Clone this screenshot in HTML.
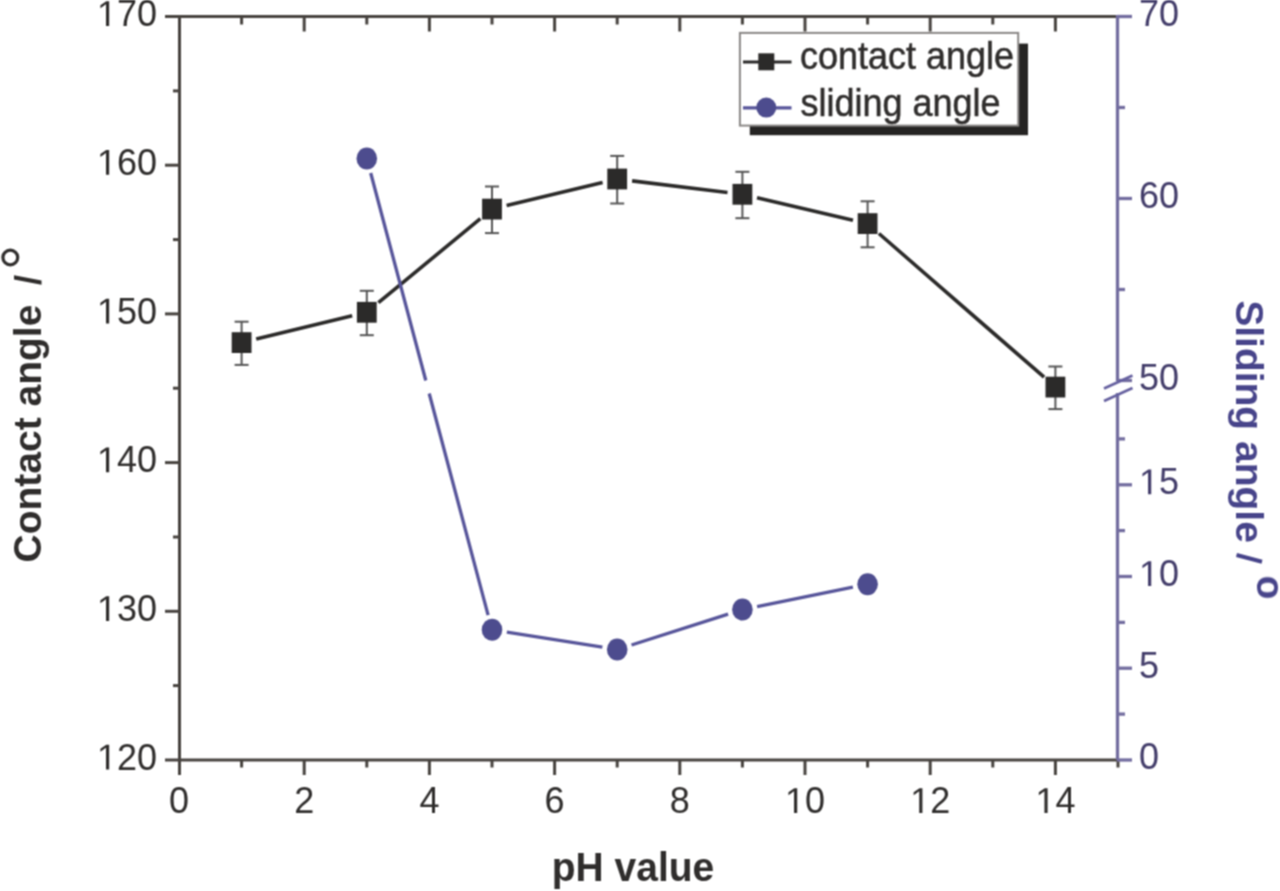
<!DOCTYPE html>
<html><head><meta charset="utf-8"><style>
html,body{margin:0;padding:0;background:#fff;}
body{width:1280px;height:891px;overflow:hidden;font-family:"Liberation Sans",sans-serif;}
svg{display:block;}
</style></head><body>
<svg width="1280" height="891" viewBox="0 0 1280 891">
<defs><filter id="bl" x="0" y="0" width="1" height="1" color-interpolation-filters="sRGB"><feConvolveMatrix order="3" kernelMatrix="1 2 1 2 4 2 1 2 1" divisor="16" edgeMode="duplicate"/></filter></defs>
<g filter="url(#bl)"><rect width="1280" height="891" fill="#fff"/>
<g stroke="#47433f" stroke-width="3" fill="none" stroke-linecap="butt">
<line x1="179.5" y1="15" x2="179.5" y2="775"/>
<line x1="165" y1="16.5" x2="1117" y2="16.5"/>
<line x1="165" y1="760" x2="1117" y2="760"/>
<line x1="165" y1="611.3" x2="180" y2="611.3"/>
<line x1="165" y1="462.6" x2="180" y2="462.6"/>
<line x1="165" y1="313.9" x2="180" y2="313.9"/>
<line x1="165" y1="165.2" x2="180" y2="165.2"/>
<line x1="173" y1="685.6" x2="180" y2="685.6"/>
<line x1="173" y1="537.0" x2="180" y2="537.0"/>
<line x1="173" y1="388.2" x2="180" y2="388.2"/>
<line x1="173" y1="239.6" x2="180" y2="239.6"/>
<line x1="173" y1="90.9" x2="180" y2="90.9"/>
<line x1="304.2" y1="760" x2="304.2" y2="775"/>
<line x1="429.4" y1="760" x2="429.4" y2="775"/>
<line x1="554.6" y1="760" x2="554.6" y2="775"/>
<line x1="679.8" y1="760" x2="679.8" y2="775"/>
<line x1="805.0" y1="760" x2="805.0" y2="775"/>
<line x1="930.2" y1="760" x2="930.2" y2="775"/>
<line x1="1055.4" y1="760" x2="1055.4" y2="775"/>
<line x1="241.6" y1="760" x2="241.6" y2="767.5"/>
<line x1="366.8" y1="760" x2="366.8" y2="767.5"/>
<line x1="492.0" y1="760" x2="492.0" y2="767.5"/>
<line x1="617.2" y1="760" x2="617.2" y2="767.5"/>
<line x1="742.4" y1="760" x2="742.4" y2="767.5"/>
<line x1="867.6" y1="760" x2="867.6" y2="767.5"/>
<line x1="992.8" y1="760" x2="992.8" y2="767.5"/>
<line x1="1118.0" y1="760" x2="1118.0" y2="767.5"/>
<line x1="304.2" y1="16.5" x2="304.2" y2="31.5"/>
<line x1="429.4" y1="16.5" x2="429.4" y2="31.5"/>
<line x1="554.6" y1="16.5" x2="554.6" y2="31.5"/>
<line x1="679.8" y1="16.5" x2="679.8" y2="31.5"/>
<line x1="805.0" y1="16.5" x2="805.0" y2="31.5"/>
<line x1="930.2" y1="16.5" x2="930.2" y2="31.5"/>
<line x1="1055.4" y1="16.5" x2="1055.4" y2="31.5"/>
<line x1="241.6" y1="16.5" x2="241.6" y2="24.5"/>
<line x1="366.8" y1="16.5" x2="366.8" y2="24.5"/>
<line x1="492.0" y1="16.5" x2="492.0" y2="24.5"/>
<line x1="617.2" y1="16.5" x2="617.2" y2="24.5"/>
<line x1="742.4" y1="16.5" x2="742.4" y2="24.5"/>
<line x1="867.6" y1="16.5" x2="867.6" y2="24.5"/>
<line x1="992.8" y1="16.5" x2="992.8" y2="24.5"/>
</g>
<g stroke="#736d9f" stroke-width="3.3" fill="none">
<line x1="1117.5" y1="15" x2="1117.5" y2="381"/>
<line x1="1117.5" y1="393" x2="1117.5" y2="760"/>
<line x1="1117" y1="16.5" x2="1132" y2="16.5"/>
<line x1="1117" y1="198.5" x2="1132" y2="198.5"/>
<line x1="1117" y1="380.5" x2="1132" y2="380.5"/>
<line x1="1117" y1="107.5" x2="1125" y2="107.5"/>
<line x1="1117" y1="289.5" x2="1125" y2="289.5"/>
<line x1="1117" y1="760.0" x2="1132" y2="760.0"/>
<line x1="1117" y1="668.2" x2="1132" y2="668.2"/>
<line x1="1117" y1="576.5" x2="1132" y2="576.5"/>
<line x1="1117" y1="484.8" x2="1132" y2="484.8"/>
<line x1="1117" y1="714.1" x2="1125" y2="714.1"/>
<line x1="1117" y1="622.4" x2="1125" y2="622.4"/>
<line x1="1117" y1="530.6" x2="1125" y2="530.6"/>
<line x1="1117" y1="438.9" x2="1125" y2="438.9"/>
<line x1="1104" y1="388.5" x2="1132.5" y2="375.5" stroke="#65609f" stroke-width="2.7"/>
<line x1="1104" y1="401" x2="1132.5" y2="388" stroke="#65609f" stroke-width="2.7"/>
</g>
<path transform="translate(96.94,769.60) scale(0.01758,-0.01758)" d="M515,0 L515,1237 L197,1010 L197,1180 L530,1409 L696,1409 L696,0 Z" fill="#2f2d2c"/>
<text x="116.96" y="769.60" font-family="Liberation Sans" font-size="36" fill="#2f2d2c">2</text>
<text x="136.98" y="769.60" font-family="Liberation Sans" font-size="36" fill="#2f2d2c">0</text>
<path transform="translate(96.94,620.90) scale(0.01758,-0.01758)" d="M515,0 L515,1237 L197,1010 L197,1180 L530,1409 L696,1409 L696,0 Z" fill="#2f2d2c"/>
<text x="116.96" y="620.90" font-family="Liberation Sans" font-size="36" fill="#2f2d2c">3</text>
<text x="136.98" y="620.90" font-family="Liberation Sans" font-size="36" fill="#2f2d2c">0</text>
<path transform="translate(96.94,472.20) scale(0.01758,-0.01758)" d="M515,0 L515,1237 L197,1010 L197,1180 L530,1409 L696,1409 L696,0 Z" fill="#2f2d2c"/>
<text x="116.96" y="472.20" font-family="Liberation Sans" font-size="36" fill="#2f2d2c">4</text>
<text x="136.98" y="472.20" font-family="Liberation Sans" font-size="36" fill="#2f2d2c">0</text>
<path transform="translate(96.94,323.50) scale(0.01758,-0.01758)" d="M515,0 L515,1237 L197,1010 L197,1180 L530,1409 L696,1409 L696,0 Z" fill="#2f2d2c"/>
<text x="116.96" y="323.50" font-family="Liberation Sans" font-size="36" fill="#2f2d2c">5</text>
<text x="136.98" y="323.50" font-family="Liberation Sans" font-size="36" fill="#2f2d2c">0</text>
<path transform="translate(96.94,174.80) scale(0.01758,-0.01758)" d="M515,0 L515,1237 L197,1010 L197,1180 L530,1409 L696,1409 L696,0 Z" fill="#2f2d2c"/>
<text x="116.96" y="174.80" font-family="Liberation Sans" font-size="36" fill="#2f2d2c">6</text>
<text x="136.98" y="174.80" font-family="Liberation Sans" font-size="36" fill="#2f2d2c">0</text>
<path transform="translate(96.94,26.10) scale(0.01758,-0.01758)" d="M515,0 L515,1237 L197,1010 L197,1180 L530,1409 L696,1409 L696,0 Z" fill="#2f2d2c"/>
<text x="116.96" y="26.10" font-family="Liberation Sans" font-size="36" fill="#2f2d2c">7</text>
<text x="136.98" y="26.10" font-family="Liberation Sans" font-size="36" fill="#2f2d2c">0</text>
<text x="168.99" y="813.00" font-family="Liberation Sans" font-size="36" fill="#2f2d2c">0</text>
<text x="294.19" y="813.00" font-family="Liberation Sans" font-size="36" fill="#2f2d2c">2</text>
<text x="419.39" y="813.00" font-family="Liberation Sans" font-size="36" fill="#2f2d2c">4</text>
<text x="544.59" y="813.00" font-family="Liberation Sans" font-size="36" fill="#2f2d2c">6</text>
<text x="669.79" y="813.00" font-family="Liberation Sans" font-size="36" fill="#2f2d2c">8</text>
<path transform="translate(784.98,813.00) scale(0.01758,-0.01758)" d="M515,0 L515,1237 L197,1010 L197,1180 L530,1409 L696,1409 L696,0 Z" fill="#2f2d2c"/>
<text x="805.00" y="813.00" font-family="Liberation Sans" font-size="36" fill="#2f2d2c">0</text>
<path transform="translate(910.18,813.00) scale(0.01758,-0.01758)" d="M515,0 L515,1237 L197,1010 L197,1180 L530,1409 L696,1409 L696,0 Z" fill="#2f2d2c"/>
<text x="930.20" y="813.00" font-family="Liberation Sans" font-size="36" fill="#2f2d2c">2</text>
<path transform="translate(1035.38,813.00) scale(0.01758,-0.01758)" d="M515,0 L515,1237 L197,1010 L197,1180 L530,1409 L696,1409 L696,0 Z" fill="#2f2d2c"/>
<text x="1055.40" y="813.00" font-family="Liberation Sans" font-size="36" fill="#2f2d2c">4</text>
<text x="1139.00" y="25.90" font-family="Liberation Sans" font-size="36" fill="#433d6a">7</text>
<text x="1159.02" y="25.90" font-family="Liberation Sans" font-size="36" fill="#433d6a">0</text>
<text x="1139.00" y="207.90" font-family="Liberation Sans" font-size="36" fill="#433d6a">6</text>
<text x="1159.02" y="207.90" font-family="Liberation Sans" font-size="36" fill="#433d6a">0</text>
<text x="1139.00" y="389.90" font-family="Liberation Sans" font-size="36" fill="#433d6a">5</text>
<text x="1159.02" y="389.90" font-family="Liberation Sans" font-size="36" fill="#433d6a">0</text>
<path transform="translate(1139.00,494.15) scale(0.01758,-0.01758)" d="M515,0 L515,1237 L197,1010 L197,1180 L530,1409 L696,1409 L696,0 Z" fill="#433d6a"/>
<text x="1159.02" y="494.15" font-family="Liberation Sans" font-size="36" fill="#433d6a">5</text>
<path transform="translate(1139.00,585.90) scale(0.01758,-0.01758)" d="M515,0 L515,1237 L197,1010 L197,1180 L530,1409 L696,1409 L696,0 Z" fill="#433d6a"/>
<text x="1159.02" y="585.90" font-family="Liberation Sans" font-size="36" fill="#433d6a">0</text>
<text x="1139.00" y="677.65" font-family="Liberation Sans" font-size="36" fill="#433d6a">5</text>
<text x="1139.00" y="769.40" font-family="Liberation Sans" font-size="36" fill="#433d6a">0</text>
<text transform="translate(633,880.5) scale(1,1.035)" text-anchor="middle" font-family="Liberation Sans" font-weight="bold" font-size="39" fill="#2f2d2c">pH value</text>
<text transform="translate(41.1,562.5) rotate(-90)" font-family="Liberation Sans" font-weight="bold" font-size="39" fill="#2f2d2c">Contact angle</text>
<text transform="translate(41,285) rotate(-90)" font-family="Liberation Sans" font-weight="bold" font-size="36" fill="#2f2d2c">/</text>
<ellipse cx="10.3" cy="257.5" rx="7.4" ry="7.4" fill="none" stroke="#2f2d2c" stroke-width="3.2"/>
<text transform="translate(1236,300.2) rotate(90)" font-family="Liberation Sans" font-weight="bold" font-size="39" fill="#47448a">Sliding angle</text>
<line x1="1236.5" y1="555" x2="1262" y2="561.8" stroke="#47448a" stroke-width="4"/>
<text transform="translate(1257,575.6) rotate(90)" font-family="Liberation Sans" font-weight="bold" font-size="39" fill="#47448a">o</text>
<g stroke="#2b2a29" stroke-width="3.6">
<line x1="256.2" y1="339.1" x2="352.2" y2="315.8"/>
<line x1="378.4" y1="302.7" x2="480.4" y2="218.6"/>
<line x1="506.6" y1="205.6" x2="602.6" y2="182.5"/>
<line x1="632.1" y1="180.9" x2="727.5" y2="192.5"/>
<line x1="757.0" y1="197.8" x2="853.0" y2="220.2"/>
<line x1="878.9" y1="233.5" x2="1044.1" y2="377.2"/>
</g>
<g stroke="#555" stroke-width="2">
<line x1="241.6" y1="321.7" x2="241.6" y2="364.9"/>
<line x1="234.6" y1="321.7" x2="248.6" y2="321.7"/>
<line x1="234.6" y1="364.9" x2="248.6" y2="364.9"/>
<line x1="366.8" y1="290.8" x2="366.8" y2="335.2"/>
<line x1="359.8" y1="290.8" x2="373.8" y2="290.8"/>
<line x1="359.8" y1="335.2" x2="373.8" y2="335.2"/>
<line x1="492.0" y1="186.5" x2="492.0" y2="233.1"/>
<line x1="485.0" y1="186.5" x2="499.0" y2="186.5"/>
<line x1="485.0" y1="233.1" x2="499.0" y2="233.1"/>
<line x1="617.2" y1="155.9" x2="617.2" y2="203.5"/>
<line x1="610.2" y1="155.9" x2="624.2" y2="155.9"/>
<line x1="610.2" y1="203.5" x2="624.2" y2="203.5"/>
<line x1="742.4" y1="171.8" x2="742.4" y2="218.2"/>
<line x1="735.4" y1="171.8" x2="749.4" y2="171.8"/>
<line x1="735.4" y1="218.2" x2="749.4" y2="218.2"/>
<line x1="867.6" y1="201.3" x2="867.6" y2="247.3"/>
<line x1="860.6" y1="201.3" x2="874.6" y2="201.3"/>
<line x1="860.6" y1="247.3" x2="874.6" y2="247.3"/>
<line x1="1055.4" y1="366.5" x2="1055.4" y2="409.1"/>
<line x1="1048.4" y1="366.5" x2="1062.4" y2="366.5"/>
<line x1="1048.4" y1="409.1" x2="1062.4" y2="409.1"/>
</g>
<g fill="#2b2a29">
<rect x="231.7" y="332.2" width="19.8" height="20.8"/>
<rect x="356.9" y="301.9" width="19.8" height="20.8"/>
<rect x="482.1" y="198.7" width="19.8" height="20.8"/>
<rect x="607.3" y="168.6" width="19.8" height="20.8"/>
<rect x="732.5" y="183.9" width="19.8" height="20.8"/>
<rect x="857.7" y="213.2" width="19.8" height="20.8"/>
<rect x="1045.5" y="376.7" width="19.8" height="20.8"/>
</g>
<g stroke="#57559a" stroke-width="3.3">
<line x1="370.7" y1="173.0" x2="425.8" y2="380.5"/>
<line x1="429.2" y1="393.5" x2="488.1" y2="615.2"/>
<line x1="506.8" y1="632.1" x2="602.4" y2="647.2"/>
<line x1="631.5" y1="645.0" x2="728.1" y2="614.1"/>
<line x1="757.1" y1="606.6" x2="852.9" y2="587.2"/>
</g>
<g fill="#4d4c8e">
<ellipse cx="366.8" cy="158.5" rx="10.3" ry="11"/>
<ellipse cx="492.0" cy="629.7" rx="10.3" ry="11"/>
<ellipse cx="617.2" cy="649.5" rx="10.3" ry="11"/>
<ellipse cx="742.4" cy="609.5" rx="10.3" ry="11"/>
<ellipse cx="867.6" cy="584.2" rx="10.3" ry="11"/>
</g>
<rect x="749.8" y="43.6" width="278.2" height="91.6" fill="#252423"/>
<rect x="739.9" y="32.9" width="278.3" height="92.7" fill="#fff" stroke="#8a8785" stroke-width="2"/>
<line x1="743" y1="62" x2="791.5" y2="62" stroke="#2b2a29" stroke-width="3.2"/>
<rect x="758.3" y="53.3" width="16" height="17" fill="#2b2a29"/>
<line x1="743" y1="107.9" x2="791.5" y2="107.9" stroke="#57559a" stroke-width="3.2"/>
<circle cx="766.3" cy="107.6" r="10" fill="#4d4c8e"/>
<g font-family="Liberation Sans" font-size="36" fill="#2f2d2c" stroke="#2f2d2c" stroke-width="0.5">
<text transform="translate(800,69.4) scale(1,1.065)">contact angle</text>
<text transform="translate(800.5,116.1) scale(1,1.065)">sliding angle</text>
</g>
</g></svg>
</body></html>
